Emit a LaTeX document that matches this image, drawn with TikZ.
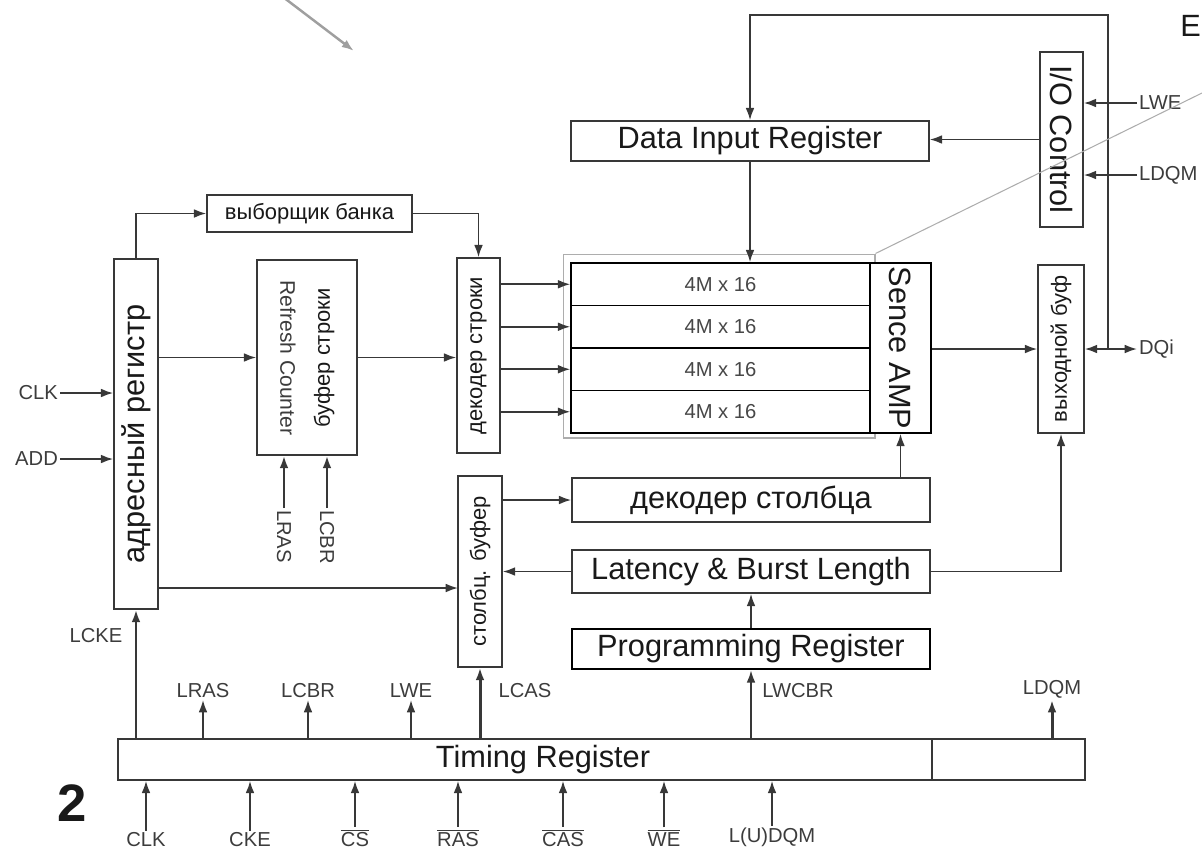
\documentclass[tikz,border=0pt]{standalone}
\usepackage{fontspec}
\setmainfont{Liberation Sans}
\usetikzlibrary{arrows.meta, calc}
\definecolor{ln}{gray}{0.22}
\definecolor{txt}{gray}{0.1}
\definecolor{frm}{gray}{0.68}
\tikzset{>={Latex[length=7pt,width=5pt]}}

\begin{document}
\begin{tikzpicture}[x=0.02cm, y=-0.02cm,
  box/.style = {draw=ln, line width=0.9pt, fill=white, inner sep=0pt},
  big/.style = {font=\fontsize{17.5}{20}\selectfont, text=txt},
  mid/.style = {font=\fontsize{12.5}{15}\selectfont, text=txt},
  sml/.style = {font=\fontsize{11.5}{13}\selectfont, text=txt!85, inner sep=1pt},
  wire/.style = {draw=ln, line width=1pt},
  bus/.style = {draw=ln, line width=1.7pt}]
\useasboundingbox (0,0) rectangle (1202,850);

\coordinate (pA) at (283,-3);
\coordinate (pB) at (354,51);
\draw[->, gray!75, line width=1.4pt] (pA) -- (pB);
\node[big, anchor=west, inner sep=0pt] (edgeE) at (1180,26) {E};
\node[font=\bfseries\fontsize{30}{32}\selectfont, text=txt] (fignum) at (72,803) {2};

\node[draw=frm, line width=0.6pt, minimum width=6.24cm, minimum height=3.68cm, inner sep=0pt] (frame) at (719,346) {};

\node[box, minimum width=0.88cm, minimum height=7cm] (adr) at (136,434) {};
\node[big, rotate=90] at (adr) {адресный регистр};
\node[box, mid, minimum width=4.1cm, minimum height=0.74cm] (vyb) at (309.5,213.5) {выборщик банка};

\node[box, minimum width=2cm, minimum height=3.9cm] (bufstr) at (307,357.5) {};
\node[sml, rotate=-90, font=\fontsize{12}{14}\selectfont] (refr) at (288,358) {Refresh Counter};
\node[mid, rotate=90] (bstr) at (324,358) {буфер строки};

\node[box, minimum width=0.86cm, minimum height=3.9cm] (dekstr) at (478.5,355.5) {};
\node[mid, rotate=90] at (dekstr) {декодер строки};
\node[box, minimum width=0.88cm, minimum height=3.82cm] (stolb) at (480,571.5) {};
\node[mid, rotate=90] at (stolb) {столбц. буфер};

\foreach \i in {1,...,4}
  \node[box, draw=black, minimum width=5.98cm, minimum height=0.85cm, font=\fontsize{11.5}{13}\selectfont, text=txt!80] (bank\i) at (720.5,{263+42.5*(\i-0.5)}) {4M x 16};
\node[box, draw=black, minimum width=1.22cm, minimum height=3.4cm] (sense) at (900.5,348) {};
\node[big, rotate=-90] at (sense) {Sence AMP};

\node[box, big, minimum width=7.16cm, minimum height=0.8cm] (dir) at (750,141) {Data Input Register};
\node[box, minimum width=0.86cm, minimum height=3.5cm] (ioc) at (1061.5,139.5) {};
\node[big, rotate=-90] at (ioc) {I/O Control};
\node[box, minimum width=0.92cm, minimum height=3.36cm] (obuf) at (1061,349) {};
\node[mid, rotate=90] at (obuf) {выходной буф};

\node[box, big, minimum width=7.16cm, minimum height=0.88cm] (dekcol) at (751,500) {декодер столбца};
\node[box, big, minimum width=7.16cm, minimum height=0.86cm] (lat) at (751,571.5) {Latency \& Burst Length};
\node[box, big, draw=black, line width=1.5pt, minimum width=7.16cm, minimum height=0.8cm] (prog) at (751,649) {Programming Register};

\node[box, minimum width=16.28cm, minimum height=0.82cm] (timing) at (525,759.5) {};
\node[box, minimum width=3.06cm, minimum height=0.82cm] (timingx) at (1008.5,759.5) {};
\node[big] (tlabel) at (543,760) {Timing Register};

\node[sml, anchor=east] (clkin) at (60,393) {CLK};
\node[sml, anchor=east] (addin) at (60,459) {ADD};
\node[sml, anchor=west] (dqi) at (1137,349) {DQi};
\node[sml, anchor=west] (lwe) at (1137,103) {LWE};
\node[sml, anchor=west] (ldqmr) at (1137,175) {LDQM};
\node[sml, anchor=west, rotate=-90] (lrasb) at (284,508) {LRAS};
\node[sml, anchor=west, rotate=-90] (lcbrb) at (327,508) {LCBR};

\node[sml] (lcke) at (96,636) {LCKE};
\node[sml, anchor=south] (lras) at (203,700) {LRAS};
\node[sml, anchor=south] (lcbr) at (308,700) {LCBR};
\node[sml, anchor=south] (lwe2) at (411,700) {LWE};
\node[sml, anchor=south] (lcas) at (525,700) {LCAS};
\node[sml, anchor=south] (lwcbr) at (798,700) {LWCBR};
\node[sml, anchor=south] (ldqm) at (1052,700) {LDQM};

\node[sml, anchor=south] (clk) at (146,849) {CLK};
\node[sml, anchor=south] (cke) at (250,849) {CKE};
\node[sml, anchor=south] (cs) at (355,849) {$\overline{\mbox{CS}}$};
\node[sml, anchor=south] (ras) at (458,849) {$\overline{\mbox{RAS}}$};
\node[sml, anchor=south] (cas) at (563,849) {$\overline{\mbox{CAS}}$};
\node[sml, anchor=south] (we) at (664,849) {$\overline{\mbox{WE}}$};
\node[sml, anchor=south] (ldqmin) at (772,849) {L(U)DQM};

\draw[wire,->] (adr.north) |- (vyb.west);
\draw[wire,->] (vyb.east) -| (dekstr.north);
\draw[wire,->] (adr.east |- bufstr.west) -- (bufstr.west);
\draw[wire,->] (bufstr.east) -- (dekstr.west |- bufstr.east);
\foreach \i in {1,...,4}
  \draw[wire,->] (dekstr.east |- bank\i.west) -- (bank\i.west);
\coordinate (sIn) at (458,588);
\draw[wire,->] (adr.east |- sIn) -- (sIn);
\draw[wire,->] (stolb.east |- dekcol.west) -- (dekcol.west);
\draw[wire,->] (lat.west) -- (stolb.east |- lat.west);
\draw[wire,->] (prog.north) -- (lat.south);
\draw[wire,->] (dekcol.north -| sense) -- (sense.south);
\draw[wire,->] (lat.east) -| (obuf.south);
\draw[wire,->] (sense.east |- obuf.west) -- (obuf.west);
\draw[wire,<->] (obuf.east) -- (dqi.west);
\coordinate (jdq) at (1108,349);
\draw[wire,->] (jdq) -- ++(0,-334) -| (dir.north);
\draw[wire,->] (ioc.west) -- (dir.east |- ioc.west);
\draw[wire,->] (dir.south) -- (dir.south |- bank1.north);
\draw[wire,->] (lwe.west) -- (ioc.east |- lwe.west);
\draw[wire,->] (ldqmr.west) -- (ioc.east |- ldqmr.west);
\draw[wire,->] (clkin.east) -- (adr.west |- clkin.east);
\draw[wire,->] (addin.east) -- (adr.west |- addin.east);
\draw[bus,->] (lrasb.west) -- (bufstr.south -| lrasb);
\draw[bus,->] (lcbrb.west) -- (bufstr.south -| lcbrb);

\draw[bus,->] (adr.south |- timing.north) -- (adr.south);
\draw[bus,->] (stolb.south |- timing.north) -- (stolb.south);
\draw[wire,->] (prog.south |- timing.north) -- (prog.south);
\foreach \n in {lras,lcbr,lwe2}
  \draw[wire,->] (timing.north -| \n) -- (\n.south);
\draw[bus,->] (timingx.north -| ldqm) -- (ldqm.south);
\foreach \n in {clk,cke,cs,ras,cas,we,ldqmin}
  \draw[wire,->] (\n.north) -- (timing.south -| \n);

\coordinate (diagEnd) at (1202,93);
\draw[frm, line width=0.6pt] (frame.north east) -- (diagEnd);
\end{tikzpicture}
\end{document}
